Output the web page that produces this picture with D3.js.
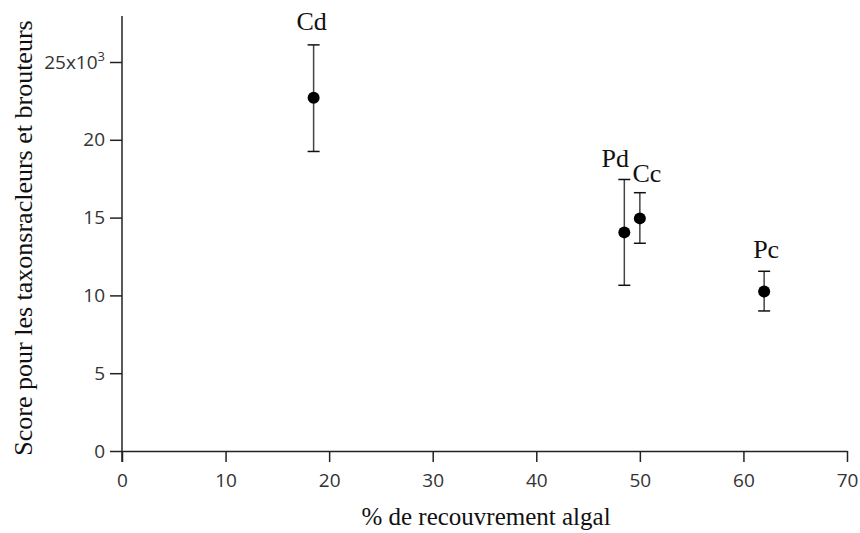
<!DOCTYPE html>
<html><head><meta charset="utf-8">
<script src="https://cdn.jsdelivr.net/npm/d3@7"></script>
<style>body{margin:0;background:#fff}</style>
</head><body>
<svg id="c" width="860" height="533"></svg>
<script>
const labels = ["Cd", "Pd", "Cc", "Pc"];
const xValues = [18.5, 48.5, 50.0, 62.0];
const yValues = [22.7, 14.05, 14.95, 10.25];
const yLow = [19.25, 10.65, 13.35, 9.0];
const yHigh = [26.1, 17.45, 16.6, 11.55];
const xTicks = [0, 10, 20, 30, 40, 50, 60, 70];
const yTicks = [0, 5, 10, 15, 20, 25];

const svg = d3.select("#c");
const x = d3.scaleLinear().domain([0, 70]).range([122, 847]);
const y = d3.scaleLinear().domain([0, 25]).range([451, 62]);
const tickFont = "'Open Sans', 'DejaVu Sans', sans-serif";
const serif = "'Liberation Serif', 'Times New Roman', serif";

// x axis
const gx = svg.append("g").attr("transform", `translate(0,${y(0)})`)
  .call(d3.axisBottom(x).tickValues(xTicks).tickSize(11).tickSizeOuter(0).tickPadding(12));
gx.select(".domain").attr("stroke", "#222").attr("stroke-width", 1.5);
gx.selectAll(".tick line").attr("stroke", "#222").attr("stroke-width", 1.5);
gx.selectAll(".tick text").attr("font-family", tickFont).attr("font-size", 19).attr("fill", "#333");

// y axis
const gy = svg.append("g").attr("transform", `translate(${x(0)},0)`)
  .call(d3.axisLeft(y).tickValues(yTicks).tickSize(12).tickSizeOuter(0).tickPadding(5).tickFormat(d => d === 25 ? "" : d));
gy.select(".domain").remove();
gy.append("line").attr("x1", 0).attr("x2", 0).attr("y1", 16).attr("y2", y(0) + 11)
  .attr("stroke", "#222").attr("stroke-width", 1.5);
gy.selectAll(".tick line").attr("stroke", "#222").attr("stroke-width", 1.5);
gy.selectAll(".tick text").attr("font-family", tickFont).attr("font-size", 19).attr("fill", "#333");
// 25x10^3 label
const t25 = gy.selectAll(".tick").filter(d => d === 25).select("text");
t25.append("tspan").text("25x10");
t25.append("tspan").text("3").attr("font-size", 13).attr("dy", -8);

// error bars
const idx = d3.range(labels.length);
const g = svg.append("g");
g.selectAll(".eb").data(idx).join("line")
  .attr("x1", i => x(xValues[i])).attr("x2", i => x(xValues[i]))
  .attr("y1", i => y(yLow[i])).attr("y2", i => y(yHigh[i]))
  .attr("stroke", "#444").attr("stroke-width", 1.5);
[yLow, yHigh].forEach(arr => {
  g.selectAll(null).data(idx).join("line")
    .attr("x1", i => x(xValues[i]) - 6).attr("x2", i => x(xValues[i]) + 6)
    .attr("y1", i => y(arr[i])).attr("y2", i => y(arr[i]))
    .attr("stroke", "#111").attr("stroke-width", 1.5);
});
g.selectAll("circle").data(idx).join("circle")
  .attr("cx", i => x(xValues[i])).attr("cy", i => y(yValues[i])).attr("r", 6).attr("fill", "#000");

// point labels
const labelDx = [-2, -9, 7, 2];
const labelDy = [-15, -12, -11, -13];
g.selectAll(".lbl").data(idx).join("text")
  .attr("x", i => x(xValues[i]) + labelDx[i])
  .attr("y", i => y(yHigh[i]) + labelDy[i])
  .attr("text-anchor", "middle")
  .attr("font-family", serif).attr("font-size", 26).attr("fill", "#111")
  .text(i => labels[i]);

// axis titles
svg.append("text").attr("x", 486).attr("y", 525).attr("text-anchor", "middle")
  .attr("font-family", serif).attr("font-size", 25).attr("fill", "#111")
  .text("% de recouvrement algal");
svg.append("text").attr("transform", "translate(32,238) rotate(-90)").attr("text-anchor", "middle")
  .attr("font-family", serif).attr("font-size", 26).attr("fill", "#111")
  .text("Score pour les taxonsracleurs et brouteurs");
</script>
</body></html>
